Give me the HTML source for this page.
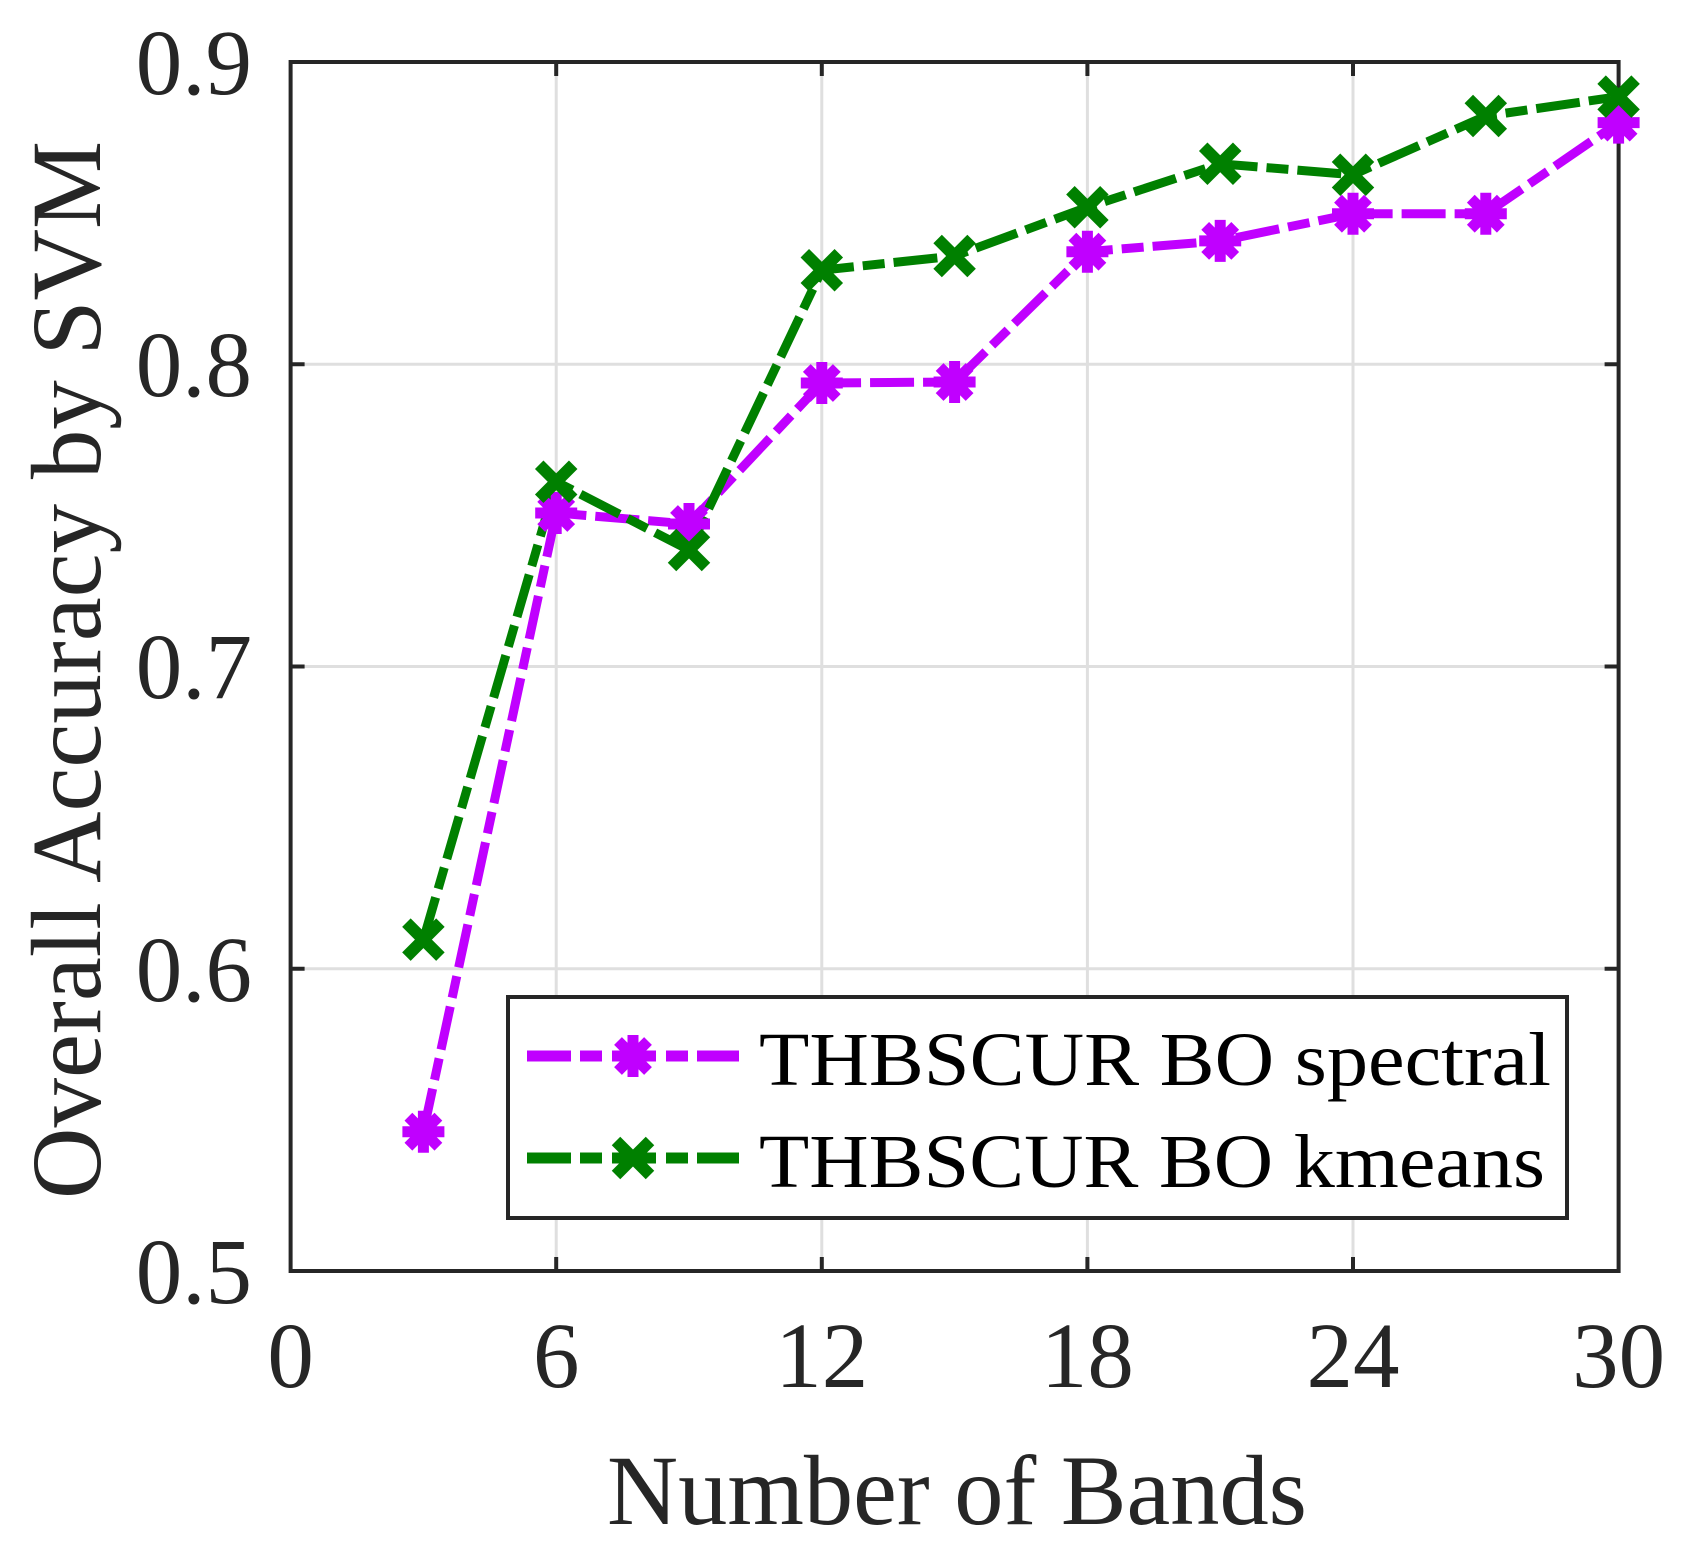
<!DOCTYPE html>
<html><head><meta charset="utf-8"><style>body{margin:0;background:#fff}</style></head><body>
<svg width="1693" height="1546" xmlns="http://www.w3.org/2000/svg" font-family="Liberation Serif, serif">
<defs>
<g id="ast"><path d="M-21,0H21M0,-21V21M-15,-15L15,15M-15,15L15,-15" stroke="#c000ff" stroke-width="11" fill="none"/></g>
<g id="xx"><path d="M-17,-17L17,17M-17,17L17,-17" stroke="#008000" stroke-width="12" fill="none"/></g>
</defs>
<rect width="1693" height="1546" fill="#fff"/>
<g stroke="#dfdfdf" stroke-width="3">
<line x1="556.2" y1="62" x2="556.2" y2="1271"/><line x1="821.8" y1="62" x2="821.8" y2="1271"/><line x1="1087.4" y1="62" x2="1087.4" y2="1271"/><line x1="1353" y1="62" x2="1353" y2="1271"/>
<line x1="290.6" y1="364.2" x2="1618.6" y2="364.2"/><line x1="290.6" y1="666.5" x2="1618.6" y2="666.5"/><line x1="290.6" y1="968.7" x2="1618.6" y2="968.7"/>
</g>
<g stroke="#262626" stroke-width="4" fill="none">
<path d="M556.2,1271v-14M821.8,1271v-14M1087.4,1271v-14M1353,1271v-14M556.2,62v14M821.8,62v14M1087.4,62v14M1353,62v14"/>
<path d="M290.6,364.2h14M290.6,666.5h14M290.6,968.7h14M1618.6,364.2h-14M1618.6,666.5h-14M1618.6,968.7h-14"/>
<rect x="290.6" y="62" width="1328" height="1209"/>
</g>
<polyline fill="none" stroke="#c000ff" stroke-width="9" stroke-dasharray="44,9,22,9" stroke-linejoin="round" points="423.4,1131.7 556.2,513 689,524 821.8,383 954.6,382 1087.4,251.7 1220.2,240.9 1353,213.7 1485.8,213.7 1618.6,122.6"/>
<polyline fill="none" stroke="#008000" stroke-width="9" stroke-dasharray="44,9,22,9" stroke-linejoin="round" points="423.4,939.6 556.2,481.7 689,550 821.8,270.2 954.6,256 1087.4,207.2 1220.2,163.8 1353,174.7 1485.8,116 1618.6,96.6"/>
<use href="#ast" x="423.4" y="1131.7"/><use href="#ast" x="556.2" y="513"/><use href="#ast" x="689" y="524"/><use href="#ast" x="821.8" y="383"/><use href="#ast" x="954.6" y="382"/><use href="#ast" x="1087.4" y="251.7"/><use href="#ast" x="1220.2" y="240.9"/><use href="#ast" x="1353" y="213.7"/><use href="#ast" x="1485.8" y="213.7"/><use href="#ast" x="1618.6" y="122.6"/>
<use href="#xx" x="423.4" y="939.6"/><use href="#xx" x="556.2" y="481.7"/><use href="#xx" x="689" y="550"/><use href="#xx" x="821.8" y="270.2"/><use href="#xx" x="954.6" y="256"/><use href="#xx" x="1087.4" y="207.2"/><use href="#xx" x="1220.2" y="163.8"/><use href="#xx" x="1353" y="174.7"/><use href="#xx" x="1485.8" y="116"/><use href="#xx" x="1618.6" y="96.6"/>
<g fill="#262626" font-size="93">
<g text-anchor="end">
<text x="252" y="94">0.9</text><text x="252" y="396">0.8</text><text x="252" y="698">0.7</text><text x="252" y="1001">0.6</text><text x="252" y="1303">0.5</text>
</g>
<g text-anchor="middle">
<text x="290.6" y="1387">0</text><text x="556.2" y="1387">6</text><text x="821.8" y="1387">12</text><text x="1087.4" y="1387">18</text><text x="1353" y="1387">24</text><text x="1618.6" y="1387">30</text>
<text x="957" y="1524" font-size="100" textLength="700" lengthAdjust="spacingAndGlyphs">Number of Bands</text>
<text transform="translate(100,670) rotate(-90)" font-size="100" textLength="1058" lengthAdjust="spacingAndGlyphs">Overall Accuracy by SVM</text>
</g>
</g>
<rect x="508" y="997" width="1059" height="221" fill="#fff" stroke="#262626" stroke-width="4"/>
<line x1="527" y1="1056" x2="739" y2="1056" stroke="#c000ff" stroke-width="11" stroke-dasharray="44,9,22,10,44,10,22,9,44"/>
<use href="#ast" x="633" y="1056"/>
<line x1="527" y1="1158" x2="739" y2="1158" stroke="#008000" stroke-width="11" stroke-dasharray="44,9,22,10,44,10,22,9,44"/>
<use href="#xx" x="633" y="1158"/>
<g font-size="76" fill="#000">
<text x="759" y="1085" textLength="792" lengthAdjust="spacingAndGlyphs">THBSCUR BO spectral</text>
<text x="759" y="1187" textLength="786" lengthAdjust="spacingAndGlyphs">THBSCUR BO kmeans</text>
</g>
</svg>
</body></html>
